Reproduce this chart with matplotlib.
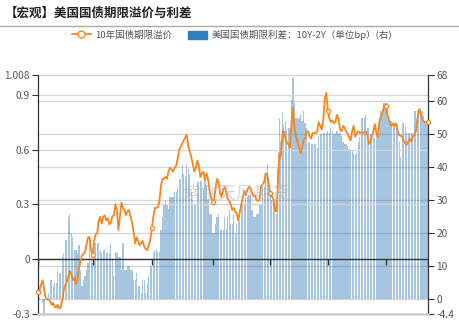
import numpy as np
import pandas as pd
import matplotlib
matplotlib.use('Agg')
import matplotlib.pyplot as plt
from matplotlib.lines import Line2D
from matplotlib.patches import Patch

plt.rcParams['font.family'] = ['Noto Sans CJK SC', 'DejaVu Sans']

# trading days shown on the category axis
dates = pd.bdate_range('2024-08-27', '2025-08-21')

# 10年国债期限溢价 (left axis)
term_premium = [
    -0.18, -0.17, -0.14, -0.115, -0.16, -0.21, -0.22, -0.22, -0.23, -0.25,
    -0.24, -0.26, -0.265, -0.25, -0.27, -0.265, -0.22, -0.17, -0.14, -0.125,
    -0.09, -0.065, -0.085, -0.115, -0.10, -0.135, -0.11, -0.05, -0.01, 0.02,
    0.03, 0.04, 0.08, 0.12, 0.12, 0.05, 0.022, 0.10, 0.135, 0.14,
    0.21, 0.232, 0.195, 0.232, 0.24, 0.213, 0.225, 0.19, 0.20, 0.235,
    0.24, 0.30, 0.27, 0.159, 0.232, 0.31, 0.28, 0.27, 0.24, 0.26,
    0.27, 0.232, 0.20, 0.15, 0.086, 0.12, 0.10, 0.077, 0.086, 0.10,
    0.07, 0.055, 0.05, 0.077, 0.104, 0.17, 0.232, 0.28, 0.28, 0.285,
    0.32, 0.40, 0.44, 0.44, 0.45, 0.44, 0.48, 0.50, 0.49, 0.48,
    0.50, 0.51, 0.55, 0.597, 0.615, 0.633, 0.65, 0.665, 0.68, 0.62,
    0.59, 0.56, 0.52, 0.48, 0.50, 0.54, 0.51, 0.45, 0.47, 0.478,
    0.432, 0.47, 0.44, 0.38, 0.34, 0.315, 0.32, 0.39, 0.44, 0.42,
    0.36, 0.34, 0.38, 0.395, 0.37, 0.33, 0.32, 0.30, 0.27, 0.28,
    0.26, 0.25, 0.213, 0.26, 0.30, 0.34, 0.375, 0.35, 0.38, 0.395,
    0.39, 0.365, 0.345, 0.35, 0.323, 0.32, 0.323, 0.40, 0.41, 0.42,
    0.47, 0.46, 0.41, 0.36, 0.345, 0.33, 0.277, 0.26, 0.38, 0.58,
    0.56, 0.68, 0.70, 0.66, 0.64, 0.63, 0.61, 0.743, 0.83, 0.72,
    0.67, 0.645, 0.61, 0.58, 0.61, 0.65, 0.66, 0.70, 0.70, 0.67,
    0.66, 0.69, 0.69, 0.69, 0.70, 0.75, 0.73, 0.71, 0.76, 0.88,
    0.91, 0.81, 0.77, 0.75, 0.76, 0.745, 0.75, 0.79, 0.77, 0.71,
    0.70, 0.73, 0.72, 0.70, 0.69, 0.665, 0.65, 0.70, 0.73, 0.67,
    0.69, 0.70, 0.69, 0.695, 0.69, 0.695, 0.70, 0.68, 0.63, 0.64,
    0.67, 0.70, 0.74, 0.69, 0.67, 0.76, 0.78, 0.80, 0.84, 0.84,
    0.80, 0.77, 0.74, 0.73, 0.743, 0.73, 0.743, 0.70, 0.68, 0.675,
    0.67, 0.645, 0.635, 0.625, 0.645, 0.66, 0.645, 0.67, 0.68, 0.70,
    0.77, 0.82, 0.80, 0.77, 0.755, 0.75, 0.75, 0.75,
]

# 美国国债期限利差 10Y-2Y, bp (right axis)
spread = [
    1, 0.5, 0, -1, -4, 1, 0.5, 2, 6, 6,
    4, 5, 5, 9, 8, 8, 13, 14, 18, 18,
    25, 26, 20, 19, 15, 15, 14, 16.5, 9, 4,
    6, 7, 9, 11, 19, 13, 11, 17, 17, 17,
    17, 15, 14, 15, 15, 14, 14, 14, 17, 12,
    7, 14.5, 14, 13, 13, 9, 17, 9, 9, 10,
    10, 9, 9, 6, 6, 8, 4, 4, 2, 6,
    6, 2, 5, 7, 10, 10, 14, 15, 15, 14.5,
    14.5, 21, 25, 29, 30, 29, 27.5, 31, 31, 31,
    32.7, 32.7, 34, 36.5, 36.5, 40.8, 38, 37, 41, 39.5,
    38, 32.5, 30, 29, 29, 35.7, 35.7, 36, 36, 33.6,
    36, 34.6, 30, 26, 26, 20, 20, 23, 25, 26,
    21, 21, 21, 25, 21.5, 25, 27, 23, 23, 26,
    20, 23, 24, 24, 29, 29, 29, 31, 31, 31.5,
    31.5, 27, 25, 25, 26, 26, 29, 29, 34, 34,
    38, 40.6, 37, 33, 30, 30, 30, 26, 39.5, 55,
    48, 56.5, 53, 54, 51.5, 52, 52, 60.5, 67, 59.5,
    55, 55, 55, 56, 54, 57, 53.5, 52, 47.8, 47.8,
    47, 47, 47, 47, 46, 49.6, 50, 50, 50.5, 50.5,
    50.5, 51, 50.5, 52, 51, 50, 50.5, 51, 50, 50.5,
    49.6, 47.8, 47, 47, 46.5, 45.5, 45, 45, 44.5, 44,
    44.4, 47.8, 49.3, 55, 55, 55, 56, 52, 52, 50,
    50, 49, 49, 50.5, 50.5, 54, 57, 57, 59.5, 59.5,
    59.5, 56, 54, 54, 53, 53, 52, 50.5, 47.8, 43.3,
    53.5, 53.5, 52.5, 50.5, 50.5, 50.5, 50.5, 50.5, 57, 57,
    57, 57, 58, 57, 55.5, 54, 54, 54,
]

label_dates = ['20240827', '20241016', '20241210', '20250204', '20250328', '20250521', '20250821']
marker_dates = ['20240827', '20241016', '20241210', '20250204', '20250328', '20250521', '20250714', '20250821']
left_ticks = [-0.3, 0, 0.3, 0.6, 0.9, 1.008]
right_ticks = [-4.4, 0, 10, 20, 30, 40, 50, 60, 68]

x = np.arange(len(dates))
label_idx = [dates.get_loc(pd.Timestamp(d)) for d in label_dates]
marker_idx = [dates.get_loc(pd.Timestamp(d)) for d in marker_dates]

orange = '#f7861f'
blue = '#2f7fc0'
grid_c = '#d6d6d6'
txt_c = '#555555'

fig = plt.figure(figsize=(4.59, 3.31), dpi=100)
ax_bar = fig.add_axes([38 / 459, 1 - 314 / 331, 390 / 459, 239 / 331])

for t in right_ticks:
    ax_bar.axhline(t, color=grid_c, lw=0.9, zorder=1)
ax_bar.bar(x, spread, width=0.78, color='#1f6fb4', alpha=0.4, linewidth=0, zorder=2)
ax_bar.set_ylim(-4.4, 68)
ax_bar.set_xlim(0, len(x) - 1)

ax_line = ax_bar.twinx()
ax_bar.yaxis.tick_right()
ax_line.yaxis.tick_left()

for t in left_ticks:
    ax_line.axhline(t, color=grid_c, lw=0.9, zorder=0)
ax_line.axhline(0, color='#333333', lw=1, zorder=1)
ax_line.plot(marker_idx, [0] * len(marker_idx), ls='none', marker=3, ms=4,
             mew=1, color='#333333', zorder=1)
ax_line.plot(x, term_premium, color=orange, lw=1.3, zorder=3, clip_on=False,
             marker='o', markevery=marker_idx, ms=3, mfc='white', mec=orange, mew=0.9)
ax_line.set_ylim(-0.3, 1.008)

ax_line.set_yticks(left_ticks)
ax_line.set_yticklabels(['{:g}'.format(t) for t in left_ticks])
ax_bar.set_yticks(right_ticks)
ax_bar.set_yticklabels(['{:g}'.format(t) for t in right_ticks])

ax_line.set_xticks(label_idx)
ax_line.set_xticklabels(label_dates)
ax_line.tick_params(axis='x', length=0, pad=3, labelsize=7.3, labelcolor=txt_c)
ax_bar.tick_params(axis='x', length=0, labelbottom=False)
ax_line.tick_params(axis='y', length=4, width=0.8, color='#333333', pad=2,
                    labelsize=7.3, labelcolor=txt_c)
ax_bar.tick_params(axis='y', length=4, width=0.8, color='#333333', pad=2,
                   labelsize=7.3, labelcolor=txt_c)

for s in ax_bar.spines.values():
    s.set_visible(False)
ax_line.spines['top'].set_visible(False)
ax_line.spines['left'].set_color('#333333')
ax_line.spines['right'].set_color('#333333')
ax_line.spines['left'].set_linewidth(0.9)
ax_line.spines['right'].set_linewidth(0.9)
ax_line.spines['bottom'].set_color('#cccccc')
ax_line.spines['bottom'].set_linewidth(1.8)

# watermark
fig.text(236 / 459, 1 - 194 / 331, '紫金天风期货', fontsize=13, color='#aaaaaa',
         alpha=0.45, ha='center', va='center')

# title and separator
fig.text(5 / 459, 1 - 13 / 331, '【宏观】美国国债期限溢价与利差', fontsize=9,
         fontweight='bold', color='#222222', va='center', ha='left')
fig.add_artist(Line2D([0, 1], [1 - 26 / 331] * 2, color='#aaaaaa', lw=1,
                      transform=fig.transFigure))

handles = [
    Line2D([0], [0], color=orange, lw=1.3, marker='o', ms=5, mfc='white', mec=orange),
    Patch(facecolor=blue, edgecolor=blue),
]
labels = ['10年国债期限溢价', '美国国债期限利差：10Y-2Y（单位bp）(右)']
fig.legend(handles, labels, loc='center', bbox_to_anchor=(232 / 459, 1 - 35 / 331),
           ncol=2, frameon=False, fontsize=6.8, handlelength=2.0, handleheight=1.0,
           handletextpad=0.5, columnspacing=1.6, labelcolor=txt_c)

fig.savefig('out.png', dpi=100)
